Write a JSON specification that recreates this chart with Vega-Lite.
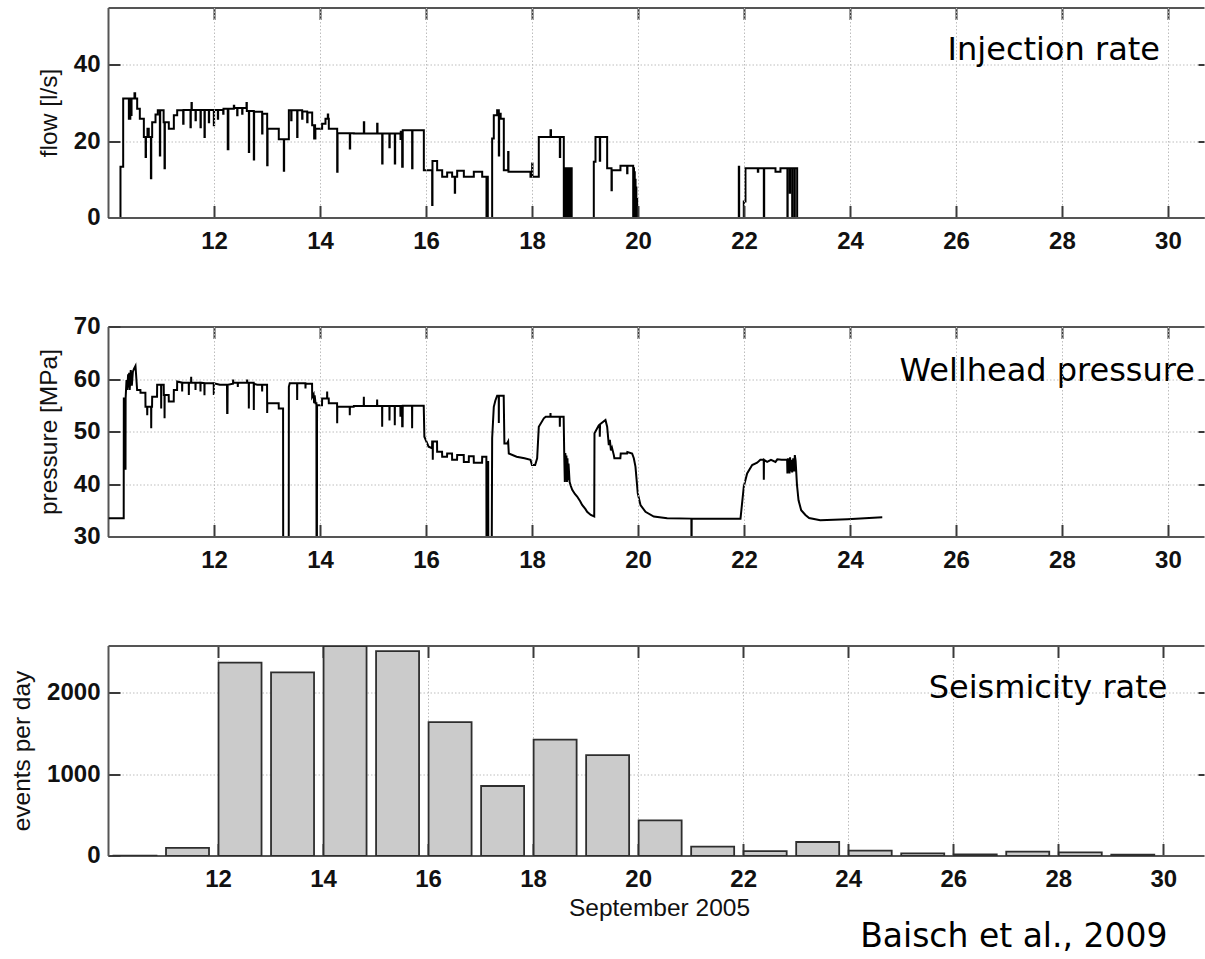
{
  "$schema": "https://vega.github.io/schema/vega-lite/v6.json",
  "padding": {"left": 9.5, "top": 7, "right": 0, "bottom": 0},
  "bounds": "flush",
  "spacing": 109,
  "title": {
    "text": "Baisch et al., 2009",
    "orient": "bottom",
    "anchor": "end",
    "font": "DejaVu Sans",
    "fontSize": 33,
    "fontWeight": "normal",
    "color": "#000000",
    "dx": -38,
    "offset": 0
  },
  "config": {
    "view": {"stroke": null},
    "font": "Liberation Sans",
    "axis": {
      "translate": 0,
      "domainColor": "#555555",
      "domainWidth": 2,
      "tickColor": "#3a3a3a",
      "tickWidth": 2,
      "tickSize": -12,
      "gridColor": "#bdbdbd",
      "gridDash": [1.5, 2],
      "gridWidth": 1,
      "format": "d",
      "labelFont": "Liberation Sans",
      "labelFontSize": 24,
      "labelFontWeight": "bold",
      "labelColor": "#111111",
      "labelFlush": false,
      "labelOverlap": false,
      "titleFont": "Liberation Sans",
      "titleFontSize": 24.5,
      "titleFontWeight": "normal",
      "titleColor": "#111111"
    }
  },
  "datasets": {
    "injection": [
      {"day": 10.000, "flow": 0}, {"day": 10.226, "flow": 13.4}, {"day": 10.277, "flow": 31.3},
      {"day": 10.384, "flow": 26.0}, {"day": 10.392, "flow": 31.3}, {"day": 10.405, "flow": 26.0},
      {"day": 10.412, "flow": 31.3}, {"day": 10.428, "flow": 27.0}, {"day": 10.435, "flow": 31.3},
      {"day": 10.490, "flow": 32.7}, {"day": 10.503, "flow": 31.3}, {"day": 10.541, "flow": 28.6},
      {"day": 10.591, "flow": 26.0}, {"day": 10.667, "flow": 21.2}, {"day": 10.700, "flow": 16.0},
      {"day": 10.707, "flow": 21.2}, {"day": 10.735, "flow": 23.4}, {"day": 10.760, "flow": 21.2},
      {"day": 10.800, "flow": 10.4}, {"day": 10.807, "flow": 21.2}, {"day": 10.824, "flow": 25.1},
      {"day": 10.887, "flow": 27.1}, {"day": 10.930, "flow": 28.2}, {"day": 10.969, "flow": 16.4},
      {"day": 10.976, "flow": 28.2}, {"day": 11.040, "flow": 25.1}, {"day": 11.057, "flow": 13.0},
      {"day": 11.064, "flow": 25.1}, {"day": 11.138, "flow": 23.4}, {"day": 11.233, "flow": 26.9},
      {"day": 11.296, "flow": 28.2}, {"day": 11.409, "flow": 24.7}, {"day": 11.416, "flow": 28.3},
      {"day": 11.547, "flow": 23.8}, {"day": 11.553, "flow": 28.3}, {"day": 11.566, "flow": 30.1},
      {"day": 11.572, "flow": 28.3}, {"day": 11.642, "flow": 25.6}, {"day": 11.648, "flow": 28.3},
      {"day": 11.736, "flow": 23.8}, {"day": 11.742, "flow": 28.3}, {"day": 11.811, "flow": 21.2},
      {"day": 11.817, "flow": 28.3}, {"day": 11.893, "flow": 25.1}, {"day": 11.899, "flow": 28.3},
      {"day": 11.987, "flow": 24.3}, {"day": 11.993, "flow": 28.3}, {"day": 12.063, "flow": 26.0},
      {"day": 12.069, "flow": 28.3}, {"day": 12.164, "flow": 27.3}, {"day": 12.170, "flow": 28.6},
      {"day": 12.250, "flow": 18.0}, {"day": 12.262, "flow": 28.6}, {"day": 12.365, "flow": 29.4},
      {"day": 12.372, "flow": 28.8}, {"day": 12.428, "flow": 26.9}, {"day": 12.434, "flow": 28.8},
      {"day": 12.522, "flow": 27.3}, {"day": 12.528, "flow": 28.8}, {"day": 12.604, "flow": 30.1},
      {"day": 12.610, "flow": 28.0}, {"day": 12.648, "flow": 17.3}, {"day": 12.654, "flow": 28.0},
      {"day": 12.742, "flow": 15.3}, {"day": 12.748, "flow": 27.8}, {"day": 12.899, "flow": 22.1},
      {"day": 12.905, "flow": 27.3}, {"day": 12.994, "flow": 13.8}, {"day": 13.001, "flow": 23.4},
      {"day": 13.213, "flow": 20.6}, {"day": 13.308, "flow": 12.4}, {"day": 13.314, "flow": 20.6},
      {"day": 13.403, "flow": 28.2}, {"day": 13.447, "flow": 25.6}, {"day": 13.453, "flow": 28.2},
      {"day": 13.560, "flow": 21.2}, {"day": 13.566, "flow": 28.2}, {"day": 13.654, "flow": 26.0},
      {"day": 13.660, "flow": 27.9}, {"day": 13.749, "flow": 25.1}, {"day": 13.755, "flow": 27.6},
      {"day": 13.843, "flow": 24.3}, {"day": 13.880, "flow": 20.8}, {"day": 13.886, "flow": 24.3},
      {"day": 13.898, "flow": 20.8}, {"day": 13.904, "flow": 23.4}, {"day": 14.031, "flow": 24.7},
      {"day": 14.094, "flow": 26.0}, {"day": 14.138, "flow": 27.1}, {"day": 14.145, "flow": 26.0},
      {"day": 14.157, "flow": 23.4}, {"day": 14.315, "flow": 12.1}, {"day": 14.322, "flow": 22.2},
      {"day": 14.553, "flow": 18.2}, {"day": 14.560, "flow": 22.2}, {"day": 14.629, "flow": 22.1},
      {"day": 14.818, "flow": 25.1}, {"day": 14.825, "flow": 22.1}, {"day": 15.069, "flow": 24.7},
      {"day": 15.076, "flow": 22.1}, {"day": 15.164, "flow": 14.3}, {"day": 15.171, "flow": 22.1},
      {"day": 15.300, "flow": 18.5}, {"day": 15.306, "flow": 22.1}, {"day": 15.402, "flow": 14.3},
      {"day": 15.409, "flow": 22.1}, {"day": 15.509, "flow": 20.7}, {"day": 15.515, "flow": 22.6},
      {"day": 15.541, "flow": 13.4}, {"day": 15.552, "flow": 23.0}, {"day": 15.729, "flow": 13.0},
      {"day": 15.736, "flow": 23.0}, {"day": 15.950, "flow": 12.5}, {"day": 16.107, "flow": 3.4},
      {"day": 16.113, "flow": 14.9}, {"day": 16.201, "flow": 12.5}, {"day": 16.296, "flow": 10.8},
      {"day": 16.390, "flow": 11.9}, {"day": 16.484, "flow": 10.8}, {"day": 16.534, "flow": 6.6},
      {"day": 16.540, "flow": 10.8}, {"day": 16.579, "flow": 12.4}, {"day": 16.705, "flow": 10.8},
      {"day": 16.893, "flow": 12.1}, {"day": 17.051, "flow": 10.8}, {"day": 17.132, "flow": 0},
      {"day": 17.140, "flow": 10.8}, {"day": 17.157, "flow": 0}, {"day": 17.239, "flow": 20.8},
      {"day": 17.270, "flow": 26.9}, {"day": 17.333, "flow": 28.2}, {"day": 17.365, "flow": 16.4},
      {"day": 17.371, "flow": 27.3}, {"day": 17.400, "flow": 26.0}, {"day": 17.459, "flow": 12.5},
      {"day": 17.541, "flow": 17.3}, {"day": 17.547, "flow": 12.1}, {"day": 17.962, "flow": 10.8},
      {"day": 17.994, "flow": 14.3}, {"day": 18.000, "flow": 10.8}, {"day": 18.119, "flow": 21.2},
      {"day": 18.340, "flow": 23.0}, {"day": 18.350, "flow": 21.2}, {"day": 18.516, "flow": 16.0},
      {"day": 18.523, "flow": 21.2}, {"day": 18.591, "flow": 0}, {"day": 18.610, "flow": 13.0},
      {"day": 18.615, "flow": 0}, {"day": 18.625, "flow": 13.0}, {"day": 18.630, "flow": 0},
      {"day": 18.640, "flow": 13.0}, {"day": 18.645, "flow": 0}, {"day": 18.655, "flow": 13.0},
      {"day": 18.660, "flow": 0}, {"day": 18.670, "flow": 13.0}, {"day": 18.675, "flow": 0},
      {"day": 18.685, "flow": 13.0}, {"day": 18.690, "flow": 0}, {"day": 18.700, "flow": 13.0},
      {"day": 18.705, "flow": 0}, {"day": 18.720, "flow": 13.0}, {"day": 18.725, "flow": 0},
      {"day": 18.735, "flow": 13.0}, {"day": 18.740, "flow": 0}, {"day": 19.157, "flow": 14.7},
      {"day": 19.189, "flow": 21.2}, {"day": 19.270, "flow": 15.0}, {"day": 19.277, "flow": 21.2},
      {"day": 19.409, "flow": 13.0}, {"day": 19.491, "flow": 7.3}, {"day": 19.497, "flow": 12.5},
      {"day": 19.660, "flow": 13.7}, {"day": 19.786, "flow": 11.7}, {"day": 19.792, "flow": 13.7},
      {"day": 19.900, "flow": 0}, {"day": 19.910, "flow": 13.0}, {"day": 19.915, "flow": 0},
      {"day": 19.925, "flow": 12.0}, {"day": 19.930, "flow": 0}, {"day": 19.940, "flow": 10.0},
      {"day": 19.945, "flow": 0}, {"day": 19.955, "flow": 8.0}, {"day": 19.960, "flow": 0},
      {"day": 19.970, "flow": 5.0}, {"day": 19.975, "flow": 0}, {"day": 21.893, "flow": 13.4},
      {"day": 21.900, "flow": 0}, {"day": 21.987, "flow": 4.3}, {"day": 22.019, "flow": 13.0},
      {"day": 22.252, "flow": 12.1}, {"day": 22.260, "flow": 13.0}, {"day": 22.365, "flow": 0},
      {"day": 22.372, "flow": 13.0}, {"day": 22.585, "flow": 12.1}, {"day": 22.679, "flow": 13.0},
      {"day": 22.810, "flow": 0}, {"day": 22.815, "flow": 13.0}, {"day": 22.855, "flow": 6.6},
      {"day": 22.860, "flow": 13.0}, {"day": 22.900, "flow": 0}, {"day": 22.905, "flow": 13.0},
      {"day": 22.945, "flow": 0}, {"day": 22.950, "flow": 13.0}, {"day": 22.994, "flow": 0},
      {"day": 24.600, "flow": 0}
    ],
    "wellhead": [
      {"day": 10.000, "pressure": 33.56}, {"day": 10.287, "pressure": 33.56}, {"day": 10.289, "pressure": 56.4},
      {"day": 10.319, "pressure": 56.4}, {"day": 10.321, "pressure": 42.8}, {"day": 10.323, "pressure": 56.4},
      {"day": 10.340, "pressure": 59.9}, {"day": 10.355, "pressure": 58.0}, {"day": 10.370, "pressure": 61.0},
      {"day": 10.380, "pressure": 58.5}, {"day": 10.390, "pressure": 61.3}, {"day": 10.400, "pressure": 58.0},
      {"day": 10.420, "pressure": 61.8}, {"day": 10.440, "pressure": 58.8}, {"day": 10.460, "pressure": 61.5},
      {"day": 10.480, "pressure": 62.0}, {"day": 10.509, "pressure": 62.57}, {"day": 10.520, "pressure": 61.0},
      {"day": 10.540, "pressure": 58.0}, {"day": 10.602, "pressure": 58.0}, {"day": 10.604, "pressure": 57.5},
      {"day": 10.696, "pressure": 57.5}, {"day": 10.698, "pressure": 54.8}, {"day": 10.729, "pressure": 54.8},
      {"day": 10.731, "pressure": 53.2}, {"day": 10.733, "pressure": 54.8}, {"day": 10.804, "pressure": 54.8},
      {"day": 10.806, "pressure": 50.7}, {"day": 10.808, "pressure": 54.8}, {"day": 10.822, "pressure": 54.8},
      {"day": 10.824, "pressure": 56.7}, {"day": 10.916, "pressure": 56.7}, {"day": 10.918, "pressure": 59.0},
      {"day": 10.992, "pressure": 59.0}, {"day": 10.994, "pressure": 54.5}, {"day": 10.996, "pressure": 59.0},
      {"day": 11.042, "pressure": 59.0}, {"day": 11.044, "pressure": 57.05}, {"day": 11.056, "pressure": 57.05},
      {"day": 11.058, "pressure": 52.6}, {"day": 11.060, "pressure": 57.05}, {"day": 11.136, "pressure": 57.05},
      {"day": 11.138, "pressure": 55.8}, {"day": 11.231, "pressure": 55.8}, {"day": 11.233, "pressure": 58.0},
      {"day": 11.294, "pressure": 58.0}, {"day": 11.296, "pressure": 59.6}, {"day": 11.388, "pressure": 59.4},
      {"day": 11.390, "pressure": 57.7}, {"day": 11.392, "pressure": 59.4}, {"day": 11.514, "pressure": 59.4},
      {"day": 11.516, "pressure": 57.05}, {"day": 11.518, "pressure": 59.4}, {"day": 11.558, "pressure": 59.4},
      {"day": 11.560, "pressure": 60.5}, {"day": 11.562, "pressure": 59.4}, {"day": 11.640, "pressure": 59.4},
      {"day": 11.642, "pressure": 58.0}, {"day": 11.644, "pressure": 59.4}, {"day": 11.734, "pressure": 59.4},
      {"day": 11.736, "pressure": 57.7}, {"day": 11.738, "pressure": 59.4}, {"day": 11.809, "pressure": 59.3},
      {"day": 11.811, "pressure": 57.0}, {"day": 11.813, "pressure": 59.3}, {"day": 11.985, "pressure": 59.3},
      {"day": 11.987, "pressure": 57.05}, {"day": 11.989, "pressure": 59.3}, {"day": 12.100, "pressure": 59.0},
      {"day": 12.236, "pressure": 59.0}, {"day": 12.239, "pressure": 53.6}, {"day": 12.245, "pressure": 53.6},
      {"day": 12.248, "pressure": 59.0}, {"day": 12.350, "pressure": 59.2}, {"day": 12.352, "pressure": 60.0},
      {"day": 12.354, "pressure": 59.4}, {"day": 12.438, "pressure": 59.4}, {"day": 12.440, "pressure": 58.6},
      {"day": 12.442, "pressure": 59.4}, {"day": 12.614, "pressure": 59.4}, {"day": 12.616, "pressure": 60.0},
      {"day": 12.618, "pressure": 59.4}, {"day": 12.646, "pressure": 59.4}, {"day": 12.648, "pressure": 54.5},
      {"day": 12.650, "pressure": 59.4}, {"day": 12.740, "pressure": 59.4}, {"day": 12.742, "pressure": 54.2},
      {"day": 12.744, "pressure": 59.2}, {"day": 12.805, "pressure": 59.0}, {"day": 12.897, "pressure": 59.0},
      {"day": 12.899, "pressure": 57.7}, {"day": 12.901, "pressure": 59.0}, {"day": 12.992, "pressure": 59.0},
      {"day": 12.994, "pressure": 53.6}, {"day": 12.997, "pressure": 55.5}, {"day": 13.211, "pressure": 55.5},
      {"day": 13.213, "pressure": 54.5}, {"day": 13.294, "pressure": 54.5}, {"day": 13.296, "pressure": 30},
      {"day": 13.401, "pressure": 30}, {"day": 13.403, "pressure": 58.6}, {"day": 13.420, "pressure": 59.3},
      {"day": 13.558, "pressure": 59.3}, {"day": 13.560, "pressure": 56.1}, {"day": 13.562, "pressure": 59.3},
      {"day": 13.715, "pressure": 59.3}, {"day": 13.717, "pressure": 58.3}, {"day": 13.719, "pressure": 59.2},
      {"day": 13.841, "pressure": 59.2}, {"day": 13.843, "pressure": 56.7}, {"day": 13.870, "pressure": 57.2},
      {"day": 13.880, "pressure": 55.5}, {"day": 13.890, "pressure": 57.0}, {"day": 13.906, "pressure": 55.5},
      {"day": 13.923, "pressure": 55.5}, {"day": 13.925, "pressure": 30}, {"day": 13.933, "pressure": 30},
      {"day": 13.935, "pressure": 55.1}, {"day": 14.029, "pressure": 55.1}, {"day": 14.031, "pressure": 56.4},
      {"day": 14.124, "pressure": 56.4}, {"day": 14.126, "pressure": 57.7}, {"day": 14.128, "pressure": 56.4},
      {"day": 14.155, "pressure": 56.4}, {"day": 14.157, "pressure": 55.5}, {"day": 14.313, "pressure": 55.5},
      {"day": 14.315, "pressure": 51.65}, {"day": 14.317, "pressure": 54.8}, {"day": 14.551, "pressure": 54.8},
      {"day": 14.553, "pressure": 53.2}, {"day": 14.555, "pressure": 54.8}, {"day": 14.627, "pressure": 54.8},
      {"day": 14.629, "pressure": 54.95}, {"day": 14.816, "pressure": 54.95}, {"day": 14.818, "pressure": 56.7},
      {"day": 14.820, "pressure": 54.95}, {"day": 15.067, "pressure": 54.95}, {"day": 15.069, "pressure": 56.2},
      {"day": 15.071, "pressure": 54.95}, {"day": 15.162, "pressure": 54.95}, {"day": 15.164, "pressure": 51.0},
      {"day": 15.166, "pressure": 54.95}, {"day": 15.300, "pressure": 54.95}, {"day": 15.302, "pressure": 52.2},
      {"day": 15.304, "pressure": 54.95}, {"day": 15.400, "pressure": 54.95}, {"day": 15.402, "pressure": 51.3},
      {"day": 15.404, "pressure": 54.95}, {"day": 15.507, "pressure": 54.95}, {"day": 15.509, "pressure": 52.9},
      {"day": 15.511, "pressure": 54.95}, {"day": 15.539, "pressure": 54.95}, {"day": 15.541, "pressure": 51.1},
      {"day": 15.550, "pressure": 51.1}, {"day": 15.552, "pressure": 55.0}, {"day": 15.727, "pressure": 55.0},
      {"day": 15.729, "pressure": 50.7}, {"day": 15.731, "pressure": 55.0}, {"day": 15.948, "pressure": 55.0},
      {"day": 15.960, "pressure": 49.1}, {"day": 16.040, "pressure": 47.2}, {"day": 16.105, "pressure": 46.9},
      {"day": 16.107, "pressure": 48.2}, {"day": 16.117, "pressure": 48.2}, {"day": 16.119, "pressure": 44.7},
      {"day": 16.121, "pressure": 48.2}, {"day": 16.199, "pressure": 48.2}, {"day": 16.201, "pressure": 46.25},
      {"day": 16.294, "pressure": 46.25}, {"day": 16.296, "pressure": 45.3}, {"day": 16.388, "pressure": 45.3},
      {"day": 16.390, "pressure": 45.9}, {"day": 16.482, "pressure": 45.9}, {"day": 16.484, "pressure": 44.7},
      {"day": 16.577, "pressure": 44.7}, {"day": 16.579, "pressure": 45.6}, {"day": 16.703, "pressure": 45.6},
      {"day": 16.705, "pressure": 44.3}, {"day": 16.798, "pressure": 44.3}, {"day": 16.800, "pressure": 45.4},
      {"day": 16.891, "pressure": 45.4}, {"day": 16.893, "pressure": 44.15}, {"day": 17.049, "pressure": 44.15},
      {"day": 17.051, "pressure": 45.3}, {"day": 17.130, "pressure": 45.3}, {"day": 17.132, "pressure": 30},
      {"day": 17.156, "pressure": 30}, {"day": 17.158, "pressure": 44.3}, {"day": 17.164, "pressure": 44.3},
      {"day": 17.166, "pressure": 30}, {"day": 17.232, "pressure": 30}, {"day": 17.239, "pressure": 48.8},
      {"day": 17.270, "pressure": 54.8}, {"day": 17.300, "pressure": 56.0}, {"day": 17.333, "pressure": 56.9},
      {"day": 17.363, "pressure": 56.9}, {"day": 17.365, "pressure": 51.7}, {"day": 17.367, "pressure": 56.9},
      {"day": 17.457, "pressure": 56.9}, {"day": 17.470, "pressure": 47.8}, {"day": 17.520, "pressure": 47.8},
      {"day": 17.541, "pressure": 48.2}, {"day": 17.553, "pressure": 45.9}, {"day": 17.700, "pressure": 45.3},
      {"day": 17.850, "pressure": 45.0}, {"day": 17.962, "pressure": 44.7}, {"day": 17.990, "pressure": 43.7},
      {"day": 18.050, "pressure": 43.7}, {"day": 18.088, "pressure": 45.0}, {"day": 18.119, "pressure": 51.0},
      {"day": 18.214, "pressure": 52.6}, {"day": 18.250, "pressure": 52.9}, {"day": 18.338, "pressure": 52.9},
      {"day": 18.340, "pressure": 53.6}, {"day": 18.342, "pressure": 52.9}, {"day": 18.514, "pressure": 52.9},
      {"day": 18.516, "pressure": 51.0}, {"day": 18.518, "pressure": 52.9}, {"day": 18.588, "pressure": 52.9},
      {"day": 18.600, "pressure": 45.3}, {"day": 18.610, "pressure": 40.5}, {"day": 18.620, "pressure": 46.0},
      {"day": 18.630, "pressure": 41.0}, {"day": 18.640, "pressure": 45.5}, {"day": 18.650, "pressure": 40.5},
      {"day": 18.660, "pressure": 45.0}, {"day": 18.670, "pressure": 40.8}, {"day": 18.680, "pressure": 44.0},
      {"day": 18.700, "pressure": 40.5}, {"day": 18.720, "pressure": 39.8}, {"day": 18.750, "pressure": 39.0},
      {"day": 18.800, "pressure": 38.2}, {"day": 18.843, "pressure": 37.7}, {"day": 18.900, "pressure": 36.8},
      {"day": 18.937, "pressure": 36.1}, {"day": 19.000, "pressure": 35.3}, {"day": 19.031, "pressure": 34.8},
      {"day": 19.100, "pressure": 34.2}, {"day": 19.165, "pressure": 33.9}, {"day": 19.170, "pressure": 49.75},
      {"day": 19.252, "pressure": 51.3}, {"day": 19.268, "pressure": 51.3}, {"day": 19.270, "pressure": 49.1},
      {"day": 19.275, "pressure": 51.5}, {"day": 19.377, "pressure": 52.3}, {"day": 19.409, "pressure": 51.0},
      {"day": 19.440, "pressure": 47.5}, {"day": 19.460, "pressure": 48.5}, {"day": 19.480, "pressure": 46.5},
      {"day": 19.500, "pressure": 47.0}, {"day": 19.535, "pressure": 45.6}, {"day": 19.545, "pressure": 45.0},
      {"day": 19.658, "pressure": 45.0}, {"day": 19.665, "pressure": 45.9}, {"day": 19.784, "pressure": 45.9},
      {"day": 19.790, "pressure": 46.2}, {"day": 19.880, "pressure": 45.9}, {"day": 19.912, "pressure": 45.0},
      {"day": 19.943, "pressure": 43.4}, {"day": 19.987, "pressure": 38.3}, {"day": 20.038, "pressure": 36.1},
      {"day": 20.132, "pressure": 34.8}, {"day": 20.289, "pressure": 33.9}, {"day": 20.541, "pressure": 33.56},
      {"day": 20.998, "pressure": 33.5}, {"day": 20.999, "pressure": 30}, {"day": 21.003, "pressure": 30},
      {"day": 21.004, "pressure": 33.5}, {"day": 21.925, "pressure": 33.5}, {"day": 21.987, "pressure": 39.6},
      {"day": 22.050, "pressure": 42.1}, {"day": 22.145, "pressure": 43.7}, {"day": 22.239, "pressure": 44.15},
      {"day": 22.300, "pressure": 44.7}, {"day": 22.363, "pressure": 44.7}, {"day": 22.365, "pressure": 40.9},
      {"day": 22.368, "pressure": 44.7}, {"day": 22.428, "pressure": 44.3}, {"day": 22.500, "pressure": 44.7},
      {"day": 22.585, "pressure": 44.3}, {"day": 22.620, "pressure": 44.8}, {"day": 22.700, "pressure": 44.7},
      {"day": 22.805, "pressure": 44.7}, {"day": 22.810, "pressure": 42.1}, {"day": 22.820, "pressure": 45.0},
      {"day": 22.830, "pressure": 42.5}, {"day": 22.840, "pressure": 44.8}, {"day": 22.850, "pressure": 42.1},
      {"day": 22.860, "pressure": 45.2}, {"day": 22.870, "pressure": 42.5}, {"day": 22.880, "pressure": 44.7},
      {"day": 22.900, "pressure": 42.3}, {"day": 22.920, "pressure": 45.0}, {"day": 22.940, "pressure": 42.5},
      {"day": 22.950, "pressure": 45.6}, {"day": 22.965, "pressure": 44.5}, {"day": 22.990, "pressure": 40.0},
      {"day": 23.020, "pressure": 37.0}, {"day": 23.070, "pressure": 35.1}, {"day": 23.150, "pressure": 34.2},
      {"day": 23.220, "pressure": 33.6}, {"day": 23.430, "pressure": 33.2}, {"day": 23.940, "pressure": 33.4},
      {"day": 24.600, "pressure": 33.75}
    ],
    "seismicity": [
      {"day": 10, "events": 5}, {"day": 11, "events": 100}, {"day": 12, "events": 2372},
      {"day": 13, "events": 2254}, {"day": 14, "events": 2577}, {"day": 15, "events": 2515},
      {"day": 16, "events": 1644}, {"day": 17, "events": 859}, {"day": 18, "events": 1427},
      {"day": 19, "events": 1239}, {"day": 20, "events": 438}, {"day": 21, "events": 114},
      {"day": 22, "events": 61}, {"day": 23, "events": 172}, {"day": 24, "events": 65},
      {"day": 25, "events": 33}, {"day": 26, "events": 20}, {"day": 27, "events": 53},
      {"day": 28, "events": 45}, {"day": 29, "events": 16}
    ]
  },
  "vconcat": [
    {
      "width": 1096,
      "height": 210,
      "layer": [
        {
          "data": {"name": "injection"},
          "mark": {"type": "line", "interpolate": "step-after", "color": "#000000", "strokeWidth": 2, "clip": true},
          "encoding": {
            "x": {
              "field": "day", "type": "quantitative",
              "scale": {"domain": [10, 30.68], "nice": false, "zero": false},
              "axis": {"orient": "bottom", "values": [12, 14, 16, 18, 20, 22, 24, 26, 28, 30], "grid": true, "labelPadding": 24.2, "title": null, "zindex": 1}
            },
            "y": {
              "field": "flow", "type": "quantitative",
              "scale": {"domain": [0, 55], "nice": false},
              "axis": {"orient": "left", "values": [0, 20, 40], "grid": true, "labelPadding": 20, "titlePadding": 12, "title": "flow [l/s]"}
            }
          }
        },
        {
          "data": {"values": [{"label": "Injection rate"}]},
          "mark": {"type": "text", "align": "right", "baseline": "alphabetic", "font": "DejaVu Sans", "fontSize": 32, "color": "#000000"},
          "encoding": {
            "x": {"datum": 29.84, "type": "quantitative", "axis": {"orient": "top", "values": [12, 14, 16, 18, 20, 22, 24, 26, 28, 30], "labels": false, "grid": false, "title": null}},
            "y": {"datum": 41.5, "type": "quantitative", "axis": {"orient": "right", "values": [0, 20, 40], "labels": false, "grid": false, "domain": false, "tickSize": -6, "title": null}},
            "text": {"field": "label"}
          }
        }
      ],
      "resolve": {"axis": {"x": "independent", "y": "independent"}}
    },
    {
      "width": 1096,
      "height": 210,
      "layer": [
        {
          "data": {"name": "wellhead"},
          "mark": {"type": "line", "interpolate": "linear", "color": "#000000", "strokeWidth": 2, "clip": true},
          "encoding": {
            "x": {
              "field": "day", "type": "quantitative",
              "scale": {"domain": [10, 30.68], "nice": false, "zero": false},
              "axis": {"orient": "bottom", "values": [12, 14, 16, 18, 20, 22, 24, 26, 28, 30], "grid": true, "labelPadding": 24.2, "title": null, "zindex": 1}
            },
            "y": {
              "field": "pressure", "type": "quantitative",
              "scale": {"domain": [30, 70], "nice": false, "zero": false},
              "axis": {"orient": "left", "values": [30, 40, 50, 60, 70], "grid": true, "labelPadding": 20, "titlePadding": 12, "title": "pressure [MPa]"}
            }
          }
        },
        {
          "data": {"values": [{"label": "Wellhead pressure"}]},
          "mark": {"type": "text", "align": "right", "baseline": "alphabetic", "font": "DejaVu Sans", "fontSize": 32, "color": "#000000"},
          "encoding": {
            "x": {"datum": 30.5, "type": "quantitative", "axis": {"orient": "top", "values": [12, 14, 16, 18, 20, 22, 24, 26, 28, 30], "labels": false, "grid": false, "title": null}},
            "y": {"datum": 59.7, "type": "quantitative", "axis": {"orient": "right", "values": [40, 50, 60], "labels": false, "grid": false, "domain": false, "tickSize": -6, "title": null}},
            "text": {"field": "label"}
          }
        }
      ],
      "resolve": {"axis": {"x": "independent", "y": "independent"}}
    },
    {
      "width": 1096,
      "height": 210,
      "layer": [
        {
          "data": {"name": "seismicity"},
          "mark": {"type": "bar", "orient": "vertical", "width": 43, "xOffset": 21.5, "fill": "#cbcbcb", "stroke": "#2e2e2e", "strokeWidth": 1.8, "clip": true},
          "encoding": {
            "x": {
              "field": "day", "type": "quantitative",
              "scale": {"domain": [10, 30.68], "nice": false, "zero": false},
              "axis": {"orient": "bottom", "values": [12, 14, 16, 18, 20, 22, 24, 26, 28, 30], "grid": true, "labelPadding": 24.2, "title": "September 2005", "titlePadding": 5, "titleX": 551}
            },
            "y": {
              "field": "events", "type": "quantitative",
              "scale": {"domain": [0, 2577], "nice": false},
              "axis": {"orient": "left", "values": [0, 1000, 2000], "grid": true, "labelPadding": 20, "titlePadding": 12, "title": "events per day"}
            }
          }
        },
        {
          "data": {"values": [{"label": "Seismicity rate"}]},
          "mark": {"type": "text", "align": "right", "baseline": "alphabetic", "font": "DejaVu Sans", "fontSize": 32, "color": "#000000"},
          "encoding": {
            "x": {"datum": 30.07, "type": "quantitative", "axis": {"orient": "top", "values": [12, 14, 16, 18, 20, 22, 24, 26, 28, 30], "labels": false, "grid": false, "title": null}},
            "y": {"datum": 1935, "type": "quantitative", "axis": {"orient": "right", "values": [1000, 2000], "labels": false, "grid": false, "domain": false, "tickSize": -6, "title": null}},
            "text": {"field": "label"}
          }
        }
      ],
      "resolve": {"axis": {"x": "independent", "y": "independent"}}
    }
  ]
}
